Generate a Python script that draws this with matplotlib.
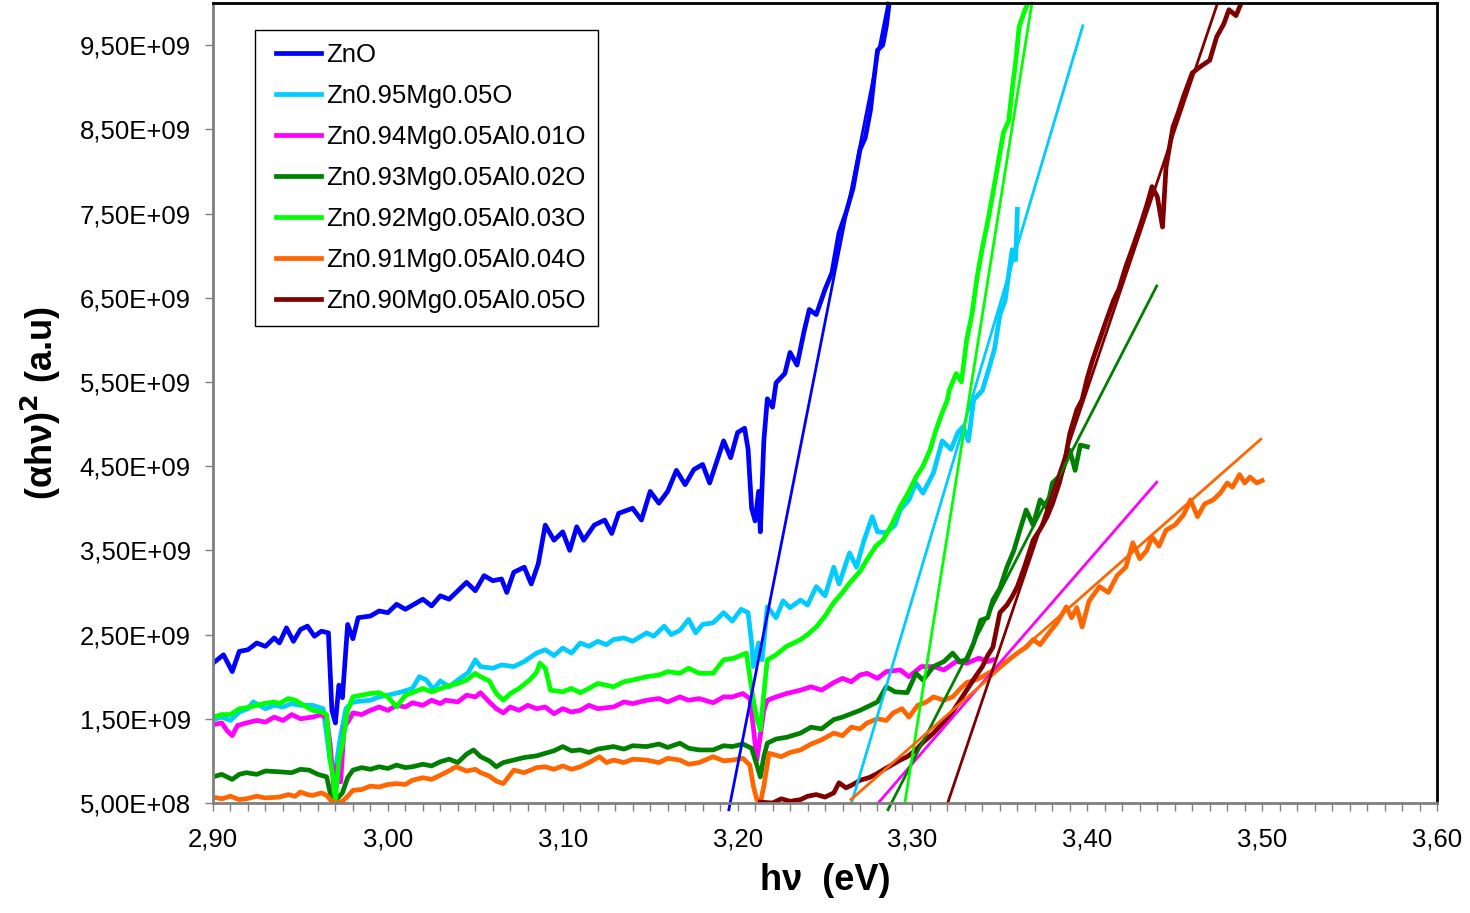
import numpy as np
import matplotlib
matplotlib.use("Agg")
import matplotlib.pyplot as plt
from matplotlib.ticker import MultipleLocator, FuncFormatter
from matplotlib.legend_handler import HandlerLine2D
from matplotlib.lines import Line2D

plt.rcParams['font.family'] = ['Liberation Sans', 'DejaVu Sans']

# values: x in eV, y in units of 1e9
labels = ["ZnO", "Zn0.95Mg0.05O", "Zn0.94Mg0.05Al0.01O", "Zn0.93Mg0.05Al0.02O",
          "Zn0.92Mg0.05Al0.03O", "Zn0.91Mg0.05Al0.04O", "Zn0.90Mg0.05Al0.05O"]
colors = ["#0000FF", "#00CCFF", "#FF00FF", "#008000", "#00FF00", "#FF6600", "#800000"]

zno = [(2.900,2.16),(2.906,2.26),(2.911,2.06),(2.915,2.30),(2.920,2.32),(2.925,2.40),(2.930,2.36),
       (2.935,2.46),(2.938,2.40),(2.942,2.58),(2.946,2.42),(2.950,2.56),(2.954,2.60),(2.958,2.48),
       (2.962,2.54),(2.966,2.52),(2.968,1.60),(2.970,1.45),(2.972,1.90),(2.974,1.75),(2.977,2.62),
       (2.980,2.45),(2.983,2.70),(2.990,2.72),(2.995,2.78),(3.000,2.76),(3.005,2.86),(3.010,2.80),
       (3.015,2.86),(3.020,2.92),(3.025,2.84),(3.030,2.96),(3.035,2.92),(3.040,3.02),(3.045,3.12),
       (3.050,3.02),(3.055,3.20),(3.060,3.14),(3.065,3.16),(3.068,3.00),(3.072,3.24),(3.078,3.30),
       (3.082,3.10),(3.086,3.34),(3.090,3.80),(3.095,3.62),(3.100,3.72),(3.104,3.50),(3.108,3.78),
       (3.112,3.62),(3.118,3.80),(3.124,3.86),(3.128,3.70),(3.132,3.94),(3.140,4.00),(3.145,3.86),
       (3.150,4.20),(3.155,4.06),(3.160,4.20),(3.165,4.45),(3.170,4.28),(3.175,4.46),(3.180,4.52),
       (3.184,4.30),(3.188,4.55),(3.192,4.80),(3.196,4.60),(3.200,4.90),(3.204,4.95),(3.206,4.70),
       (3.208,4.00),(3.210,3.85),(3.212,4.20),(3.213,3.72),(3.215,4.80),(3.217,5.30),(3.220,5.20),
       (3.222,5.49),(3.227,5.60),(3.230,5.85),(3.234,5.70),(3.238,6.10),(3.241,6.36),(3.245,6.30),
       (3.250,6.60),(3.254,6.80),(3.258,7.27),(3.262,7.51),(3.266,7.80),(3.270,8.26),(3.273,8.40),
       (3.276,8.73),(3.278,9.10),(3.280,9.44),(3.283,9.50),(3.285,9.72),(3.287,10.05)]

mg05 = [(2.900,1.49),(2.905,1.52),(2.910,1.48),(2.915,1.58),(2.920,1.62),(2.923,1.70),(2.930,1.62),
        (2.935,1.66),(2.940,1.64),(2.945,1.68),(2.950,1.66),(2.957,1.66),(2.963,1.62),(2.967,1.00),
        (2.970,0.90),(2.973,1.30),(2.976,1.62),(2.980,1.70),(2.990,1.72),(2.995,1.76),(3.000,1.78),
        (3.008,1.82),(3.014,1.86),(3.018,2.00),(3.022,1.96),(3.026,1.85),(3.030,1.95),(3.035,1.88),
        (3.040,1.96),(3.046,2.05),(3.050,2.20),(3.053,2.12),(3.060,2.10),(3.065,2.14),(3.072,2.12),
        (3.078,2.18),(3.085,2.28),(3.090,2.32),(3.095,2.25),(3.100,2.34),(3.105,2.28),(3.110,2.40),
        (3.115,2.36),(3.120,2.42),(3.125,2.38),(3.129,2.44),(3.135,2.46),(3.140,2.42),(3.148,2.52),
        (3.152,2.48),(3.158,2.60),(3.162,2.50),(3.167,2.55),(3.172,2.68),(3.176,2.52),(3.180,2.62),
        (3.186,2.64),(3.192,2.76),(3.197,2.66),(3.202,2.80),(3.206,2.76),(3.208,2.40),(3.209,2.12),
        (3.212,2.40),(3.214,2.20),(3.217,2.83),(3.222,2.70),(3.226,2.90),(3.230,2.82),(3.236,2.91),
        (3.240,2.85),(3.245,3.07),(3.250,2.96),(3.255,3.30),(3.258,3.10),(3.264,3.47),(3.268,3.30),
        (3.272,3.60),(3.277,3.90),(3.280,3.72),(3.285,3.71),(3.290,3.80),(3.293,3.98),(3.298,4.10),
        (3.302,4.30),(3.306,4.18),(3.312,4.42),(3.317,4.80),(3.322,4.70),(3.326,4.90),(3.329,4.97),
        (3.332,4.80),(3.335,5.29),(3.340,5.40),(3.344,5.68),(3.347,5.90),(3.350,6.30),(3.353,6.47),
        (3.357,7.07),(3.359,6.95),(3.360,7.55)]

al01 = [(2.900,1.43),(2.905,1.45),(2.908,1.36),(2.911,1.30),(2.914,1.42),(2.919,1.45),(2.925,1.48),
        (2.930,1.46),(2.935,1.52),(2.940,1.48),(2.945,1.55),(2.950,1.50),(2.957,1.52),(2.962,1.55),
        (2.965,1.50),(2.967,1.20),(2.969,0.69),(2.971,0.95),(2.973,0.75),(2.975,1.40),(2.978,1.49),
        (2.980,1.57),(2.985,1.55),(2.990,1.60),(2.995,1.64),(3.000,1.60),(3.005,1.66),(3.010,1.64),
        (3.014,1.69),(3.020,1.66),(3.025,1.72),(3.030,1.68),(3.033,1.72),(3.040,1.70),(3.045,1.78),
        (3.050,1.76),(3.053,1.81),(3.058,1.70),(3.062,1.62),(3.066,1.57),(3.070,1.64),(3.075,1.60),
        (3.080,1.66),(3.085,1.62),(3.090,1.64),(3.095,1.56),(3.100,1.62),(3.105,1.58),(3.110,1.60),
        (3.115,1.66),(3.120,1.62),(3.129,1.64),(3.135,1.70),(3.140,1.68),(3.148,1.72),(3.155,1.74),
        (3.160,1.70),(3.167,1.76),(3.172,1.72),(3.178,1.74),(3.186,1.69),(3.192,1.76),(3.197,1.76),
        (3.203,1.80),(3.207,1.74),(3.209,1.40),(3.211,1.01),(3.213,1.30),(3.215,1.60),(3.217,1.72),
        (3.222,1.76),(3.228,1.80),(3.236,1.84),(3.242,1.88),(3.248,1.84),(3.255,1.93),(3.260,1.98),
        (3.265,1.94),(3.270,2.02),(3.274,2.04),(3.280,1.98),(3.285,2.06),(3.293,2.08),(3.298,2.00),
        (3.305,2.12),(3.312,2.12),(3.318,2.08),(3.325,2.18),(3.331,2.16),(3.338,2.22),(3.343,2.18),
        (3.346,2.20)]

al02 = [(2.900,0.81),(2.905,0.84),(2.911,0.78),(2.915,0.84),(2.919,0.86),(2.925,0.84),(2.930,0.88),
        (2.938,0.87),(2.945,0.86),(2.950,0.90),(2.955,0.89),(2.960,0.84),(2.965,0.81),(2.967,0.62),
        (2.968,0.50),(2.971,0.55),(2.974,0.62),(2.977,0.80),(2.980,0.89),(2.985,0.92),(2.990,0.90),
        (2.995,0.93),(3.000,0.91),(3.005,0.95),(3.010,0.92),(3.014,0.93),(3.020,0.96),(3.025,0.94),
        (3.030,0.99),(3.035,1.02),(3.040,0.98),(3.045,1.08),(3.049,1.13),(3.053,1.05),(3.058,1.00),
        (3.062,0.93),(3.066,0.98),(3.072,1.01),(3.078,1.04),(3.085,1.06),(3.090,1.09),(3.095,1.12),
        (3.100,1.17),(3.105,1.12),(3.110,1.13),(3.115,1.10),(3.120,1.14),(3.129,1.17),(3.135,1.14),
        (3.140,1.18),(3.148,1.17),(3.155,1.20),(3.160,1.16),(3.167,1.21),(3.172,1.15),(3.178,1.13),
        (3.186,1.13),(3.192,1.18),(3.197,1.17),(3.203,1.20),(3.208,1.15),(3.211,0.95),(3.213,0.81),
        (3.215,1.05),(3.217,1.21),(3.222,1.26),(3.228,1.28),(3.236,1.33),(3.242,1.40),(3.248,1.38),
        (3.255,1.49),(3.260,1.52),(3.265,1.56),(3.270,1.60),(3.274,1.64),(3.280,1.70),(3.285,1.88),
        (3.290,1.82),(3.297,1.81),(3.302,2.04),(3.306,1.96),(3.312,2.12),(3.318,2.18),(3.323,2.28),
        (3.327,2.18),(3.331,2.20),(3.335,2.40),(3.339,2.67),(3.343,2.70),(3.346,2.91),(3.350,3.05),
        (3.354,3.30),(3.358,3.50),(3.361,3.71),(3.365,3.98),(3.369,3.80),(3.373,4.10),(3.377,4.00),
        (3.380,4.30),(3.385,4.40),(3.390,4.69),(3.393,4.45),(3.396,4.75),(3.400,4.73)]

al03 = [(2.900,1.52),(2.905,1.55),(2.910,1.55),(2.915,1.62),(2.919,1.63),(2.925,1.66),(2.929,1.68),
        (2.935,1.70),(2.938,1.68),(2.943,1.74),(2.947,1.72),(2.952,1.66),(2.957,1.60),(2.962,1.58),
        (2.965,1.55),(2.967,1.00),(2.969,0.77),(2.970,0.55),(2.972,1.00),(2.974,1.20),(2.977,1.60),
        (2.980,1.76),(2.985,1.78),(2.990,1.80),(2.995,1.81),(3.000,1.76),(3.005,1.64),(3.010,1.78),
        (3.014,1.81),(3.020,1.86),(3.025,1.82),(3.033,1.88),(3.040,1.92),(3.045,1.96),(3.050,2.04),
        (3.053,2.00),(3.058,1.95),(3.062,1.80),(3.066,1.72),(3.070,1.80),(3.075,1.86),(3.081,1.96),
        (3.085,2.05),(3.087,2.16),(3.090,2.10),(3.093,1.84),(3.100,1.82),(3.105,1.86),(3.110,1.81),
        (3.115,1.86),(3.120,1.92),(3.129,1.88),(3.135,1.94),(3.140,1.96),(3.148,2.00),(3.155,2.02),
        (3.160,2.06),(3.167,2.04),(3.172,2.10),(3.178,2.04),(3.186,2.04),(3.192,2.20),(3.198,2.22),
        (3.205,2.28),(3.207,2.00),(3.209,1.72),(3.211,1.50),(3.213,1.37),(3.215,1.80),(3.217,2.20),
        (3.222,2.26),(3.228,2.36),(3.236,2.44),(3.240,2.50),(3.245,2.59),(3.250,2.72),(3.255,2.88),
        (3.260,3.00),(3.264,3.11),(3.270,3.25),(3.274,3.39),(3.279,3.55),(3.283,3.62),(3.288,3.80),
        (3.293,4.02),(3.298,4.20),(3.302,4.37),(3.306,4.50),(3.310,4.69),(3.313,4.90),(3.316,5.08),
        (3.320,5.29),(3.321,5.40),(3.325,5.60),(3.328,5.50),(3.331,6.00),(3.334,6.30),(3.337,6.75),
        (3.340,7.10),(3.343,7.40),(3.346,7.74),(3.349,8.10),(3.352,8.46),(3.355,8.60),(3.357,8.97),
        (3.359,9.30),(3.361,9.72),(3.364,9.90),(3.367,10.05)]

al04 = [(2.900,0.57),(2.905,0.55),(2.910,0.58),(2.915,0.54),(2.919,0.55),(2.925,0.58),(2.930,0.56),
        (2.938,0.57),(2.943,0.60),(2.947,0.58),(2.950,0.63),(2.954,0.60),(2.957,0.59),(2.962,0.62),
        (2.965,0.59),(2.968,0.52),(2.970,0.50),(2.974,0.52),(2.977,0.58),(2.980,0.65),(2.985,0.66),
        (2.990,0.70),(2.995,0.69),(3.000,0.72),(3.005,0.73),(3.010,0.72),(3.014,0.77),(3.020,0.80),
        (3.025,0.78),(3.033,0.86),(3.039,0.93),(3.045,0.88),(3.050,0.90),(3.053,0.86),(3.058,0.82),
        (3.062,0.76),(3.066,0.73),(3.072,0.89),(3.078,0.86),(3.085,0.92),(3.090,0.93),(3.095,0.90),
        (3.100,0.94),(3.105,0.90),(3.110,0.93),(3.115,0.98),(3.121,1.05),(3.125,0.98),(3.129,1.01),
        (3.135,0.98),(3.140,1.02),(3.148,1.01),(3.155,0.98),(3.160,1.03),(3.167,1.01),(3.172,0.96),
        (3.178,0.98),(3.186,1.05),(3.192,1.00),(3.197,1.01),(3.203,1.03),(3.207,0.95),(3.209,0.70),
        (3.211,0.54),(3.213,0.50),(3.215,0.70),(3.218,1.09),(3.225,1.05),(3.230,1.10),(3.236,1.13),
        (3.242,1.20),(3.248,1.25),(3.255,1.33),(3.260,1.30),(3.265,1.40),(3.270,1.38),(3.274,1.45),
        (3.280,1.50),(3.285,1.48),(3.289,1.57),(3.294,1.62),(3.298,1.52),(3.303,1.66),(3.308,1.70),
        (3.312,1.76),(3.318,1.72),(3.323,1.76),(3.327,1.85),(3.331,1.93),(3.336,1.96),(3.340,2.00),
        (3.345,2.06),(3.350,2.12),(3.355,2.20),(3.360,2.28),(3.365,2.35),(3.369,2.44),(3.373,2.38),
        (3.378,2.52),(3.383,2.65),(3.388,2.83),(3.391,2.70),(3.394,2.82),(3.397,2.59),(3.401,2.90),
        (3.407,3.07),(3.412,3.00),(3.417,3.20),(3.422,3.30),(3.426,3.59),(3.430,3.40),(3.434,3.50),
        (3.437,3.66),(3.441,3.55),(3.445,3.74),(3.450,3.80),(3.455,3.92),(3.459,4.10),(3.463,3.90),
        (3.467,4.05),(3.472,4.10),(3.476,4.18),(3.480,4.30),(3.483,4.25),(3.487,4.40),(3.490,4.30),
        (3.493,4.37),(3.497,4.30),(3.500,4.33)]

al05 = [(3.213,0.51),(3.220,0.50),(3.225,0.55),(3.230,0.52),(3.236,0.54),(3.240,0.58),(3.245,0.60),
        (3.250,0.57),(3.255,0.62),(3.258,0.74),(3.262,0.68),(3.266,0.72),(3.270,0.77),(3.275,0.80),
        (3.279,0.84),(3.283,0.89),(3.288,0.95),(3.293,1.01),(3.297,1.05),(3.302,1.13),(3.306,1.22),
        (3.312,1.33),(3.316,1.42),(3.321,1.52),(3.326,1.68),(3.331,1.84),(3.336,2.00),(3.340,2.12),
        (3.343,2.25),(3.346,2.35),(3.350,2.76),(3.354,2.85),(3.357,2.95),(3.360,3.07),(3.364,3.30),
        (3.369,3.62),(3.373,3.75),(3.377,3.90),(3.380,4.05),(3.384,4.30),(3.387,4.55),(3.390,4.89),
        (3.394,5.17),(3.397,5.29),(3.400,5.55),(3.403,5.76),(3.407,6.00),(3.411,6.24),(3.415,6.47),
        (3.418,6.60),(3.422,6.87),(3.426,7.10),(3.430,7.34),(3.434,7.60),(3.437,7.82),(3.440,7.70),
        (3.443,7.34),(3.445,8.05),(3.449,8.53),(3.452,8.70),(3.455,8.89),(3.460,9.17),(3.465,9.25),
        (3.470,9.32),(3.474,9.60),(3.478,9.75),(3.481,9.92),(3.485,9.85),(3.489,10.05)]

# linear fits (tangent lines), endpoints
fits = [[(3.195,0.42),(3.286,10.0)],
        [(3.2653,0.51),(3.3974,9.73)],
        [(3.2808,0.51),(3.4397,4.31)],
        [(3.286,0.42),(3.4397,6.64)],
        [(3.2957,0.51),(3.3683,10.0)],
        [(3.2648,0.54),(3.4992,4.82)],
        [(3.3203,0.51),(3.474,9.97)]]

series = [zno, mg05, al01, al02, al03, al04, al05]

fig = plt.figure(figsize=(14.7, 9.13), dpi=100)
ax = fig.add_axes([0.1449, 0.1205, 0.8327, 0.8762])

for data, lab, c in zip(series, labels, colors):
    d = np.array(data)
    ax.plot(d[:, 0], d[:, 1] * 1e9, color=c, lw=3.4, label=lab, solid_joinstyle='round')

for f, c in zip(fits, colors):
    f = np.array(f)
    ax.plot(f[:, 0], f[:, 1] * 1e9, color=c, lw=2.0, clip_on=False)

ax.set_xlim(2.9, 3.6)
ax.set_ylim(5e8, 1e10)
ax.xaxis.set_major_locator(MultipleLocator(0.1))
ax.xaxis.set_minor_locator(MultipleLocator(0.01))
ax.set_yticks(np.arange(5e8, 1e10, 1e9))
ax.xaxis.set_major_formatter(FuncFormatter(lambda v, p: f"{v:.2f}".replace('.', ',')))
ax.yaxis.set_major_formatter(FuncFormatter(lambda v, p: f"{v:.2E}".replace('.', ',')))
ax.tick_params(axis='both', which='both', direction='out', length=6, width=1,
               color='#808080', labelsize=18.5)
ax.tick_params(axis='x', pad=12)
ax.tick_params(axis='y', pad=10)

for s in ['left', 'bottom']:
    ax.spines[s].set_color('#808080')
    ax.spines[s].set_linewidth(2)
for s in ['top', 'right']:
    ax.spines[s].set_color('black')
    ax.spines[s].set_linewidth(2)

ax.set_xlabel("hν  (eV)", fontsize=26, fontweight='bold', labelpad=8)
ax.set_ylabel(r"(αhν)$^{\mathbf{2}}$ (a.u)", fontsize=26, fontweight='bold', labelpad=12)

leg = ax.legend(loc='upper left', bbox_to_anchor=(0.0343, 0.966), borderaxespad=0,
                fontsize=18.5, handlelength=2.05, handletextpad=0.2, labelspacing=0.66,
                borderpad=0.5, fancybox=False, framealpha=1, edgecolor='black',
                handler_map={Line2D: HandlerLine2D(xpad=0.3)})
leg.get_frame().set_linewidth(1)

fig.savefig("out.png", dpi=100)
